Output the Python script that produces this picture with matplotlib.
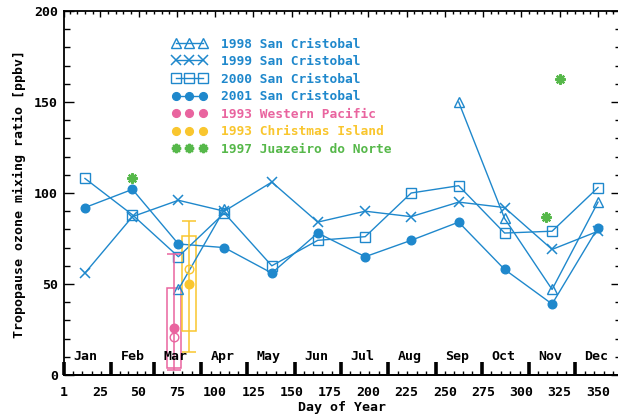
import numpy as np
import matplotlib.pyplot as plt
from matplotlib.ticker import MultipleLocator

plt.rcParams['font.family'] = ['DejaVu Sans Mono', 'DejaVu Sans']
plt.rcParams['font.weight'] = 'bold'
plt.rcParams['font.size'] = 9.3

BLUE = '#1f88cc'
PINK = '#e9649f'
GOLD = '#f9c62e'
GREEN = '#56b84a'

nan = np.nan

# San Cristobal monthly tropopause ozone (mid-month day of year)
days = [15, 46, 76, 106, 137, 167, 198, 228, 259, 289, 320, 350]
sc1998 = [nan, nan, 47, 91, nan, nan, nan, nan, 150, 86, 47, 95]
sc1999 = [56, 87, 96, 90, 106, 84, 90, 87, 95, 92, 69, 79]
sc2000 = [108, 88, 65, 89, 60, 74, 76, 100, 104, 78, 79, 103]
sc2001 = [92, 102, 72, 70, 56, 78, 65, 74, 84, 58, 39, 81]

# 1993 campaigns: day, mean, median, quartile box, min/max range
wp_day, wp_mean, wp_median = 73, 26, 21
wp_box = (4, 48)
wp_range = (3, 66.5)
ci_day, ci_mean, ci_median = 83, 50, 58.5
ci_box = (24, 76.5)
ci_range = (12.5, 84.5)

# Juazeiro do Norte 1997
jn_days = [46, 316, 325]
jn_vals = [108, 87, 162.5]

month_starts = [1, 32, 60, 91, 121, 152, 182, 213, 244, 274, 305, 335, 366]
month_names = ['Jan', 'Feb', 'Mar', 'Apr', 'May', 'Jun',
               'Jul', 'Aug', 'Sep', 'Oct', 'Nov', 'Dec']
day_ticks = [1, 25, 50, 75, 100, 125, 150, 175, 200, 225, 250, 275, 300, 325, 350]

W, H = 618, 417
fig = plt.figure(figsize=(W / 100, H / 100), dpi=100)
ax = fig.add_axes([63.5 / W, 42 / H, (621 - 63.5) / W, (375 - 11) / H])

lw = 1.0
h98, = ax.plot(days, sc1998, color=BLUE, lw=lw, marker='^', ms=7.5,
               mfc='none', mew=1.0, label='1998 San Cristobal')
h99, = ax.plot(days, sc1999, color=BLUE, lw=lw, marker='x', ms=7.5,
               mew=1.1, label='1999 San Cristobal')
h00, = ax.plot(days, sc2000, color=BLUE, lw=lw, marker='s', ms=7.5,
               mfc='none', mew=1.0, label='2000 San Cristobal')
h01, = ax.plot(days, sc2001, color=BLUE, lw=lw, marker='o', ms=6.2,
               label='2001 San Cristobal')

# box-and-whisker summaries for the 1993 campaigns
for d, mean, med, box, rng, c in [(wp_day, wp_mean, wp_median, wp_box, wp_range, PINK),
                                   (ci_day, ci_mean, ci_median, ci_box, ci_range, GOLD)]:
    ax.bar(d, box[1] - box[0], bottom=box[0], width=9, fill=False,
           edgecolor=c, linewidth=1.1)
    ax.errorbar(d, mean, yerr=[[mean - rng[0]], [rng[1] - mean]], fmt='none',
                ecolor=c, elinewidth=1.1, capsize=5, capthick=1.1)
    ax.plot(d, med, 'o', color=c, ms=6.2, mfc='none', mew=1.0)

hwp, = ax.plot(wp_day, wp_mean, 'o', color=PINK, ms=6.2, label='1993 Western Pacific')
hci, = ax.plot(ci_day, ci_mean, 'o', color=GOLD, ms=6.2, label='1993 Christmas Island')
hjn, = ax.plot(jn_days, jn_vals, ls='none', marker=(8, 2, 0), ms=7.5, mew=1.6,
               color=GREEN, label='1997 Juazeiro do Norte')

ax.set_xlim(1, 365)
ax.set_ylim(0, 200)

# day-of-year scale: labels below, ticks on top
ax.set_xticks(day_ticks)
ax.xaxis.set_minor_locator(MultipleLocator(5))
ax.tick_params(axis='x', which='both', bottom=False, top=True, direction='in',
               labelbottom=True, pad=8)
ax.tick_params(axis='x', which='major', length=4.3, width=1)
ax.tick_params(axis='x', which='minor', length=2.2, width=1)

ax.set_yticks([0, 50, 100, 150, 200])
ax.yaxis.set_minor_locator(MultipleLocator(10))
ax.tick_params(axis='y', which='both', left=True, right=True, direction='in', pad=4)
ax.tick_params(axis='y', which='major', length=7.5, width=1)
ax.tick_params(axis='y', which='minor', length=4, width=1)
for sp in ax.spines.values():
    sp.set_linewidth(1.3)

# month boundaries along the bottom axis
sec = ax.secondary_xaxis('bottom')
sec.set_xticks(month_starts[:-1])
minor_days = []
for a, b in zip(month_starts[:-1], month_starts[1:]):
    minor_days += [a + k * (b - a) / 5 for k in range(1, 5)]
sec.set_xticks(minor_days, minor=True)
sec.tick_params(which='major', direction='in', length=9.5, width=2.6, labelbottom=False)
sec.tick_params(which='minor', direction='in', length=3, width=1, labelbottom=False)
sec.spines['bottom'].set_linewidth(1.3)

for start, name in zip(month_starts[:-1], month_names):
    ax.text(start + 14, 10, name, ha='center', va='center', fontsize=9.5)

fig.text(19 / W, 1 - 193.5 / H, 'Tropopause ozone mixing ratio [ppbv]',
         rotation=90, ha='center', va='center', fontsize=9.5)
fig.text(342 / W, 1 - 408 / H, 'Day of Year', ha='center', va='center', fontsize=9.5)
for lab in ax.get_xticklabels() + ax.get_yticklabels():
    lab.set_fontsize(9.5)

ax.legend([h98, h99, h00, h01, hwp, hci, hjn],
          [h.get_label() for h in [h98, h99, h00, h01, hwp, hci, hjn]],
          loc='upper left', bbox_to_anchor=(172 / W, 1 - 37.5 / H),
          bbox_transform=fig.transFigure, numpoints=3, frameon=False,
          handlelength=2.7, handletextpad=1.1, labelspacing=0.35,
          borderpad=0, borderaxespad=0, labelcolor='linecolor', markerscale=0.9)

fig.savefig('out.png', dpi=100)
